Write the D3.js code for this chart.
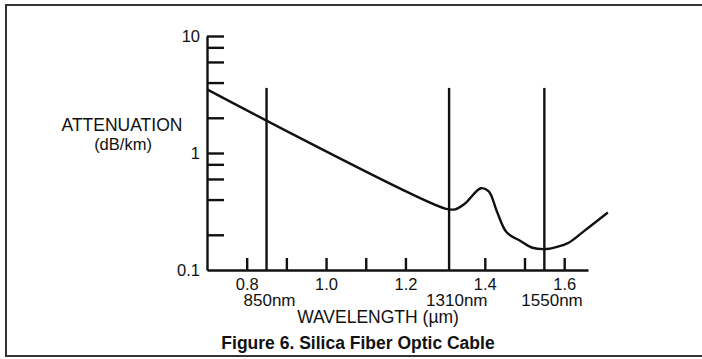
<!DOCTYPE html>
<html>
<head>
<meta charset="utf-8">
<script src="https://cdn.jsdelivr.net/npm/d3@7"></script>
<style>
  body { margin: 0; background: #fff; }
  svg { display: block; font-family: "Liberation Sans", Arial, sans-serif; }
</style>
</head>
<body>
<div id="container"></div>
<script>
/* DATA */
const wavelength = [0.70, 1.30, 1.325, 1.35, 1.39, 1.41, 1.43, 1.455, 1.49, 1.52, 1.555, 1.58, 1.61, 1.65, 1.71];
const attenuation = [3.5, 0.335, 0.33, 0.37, 0.50, 0.47, 0.32, 0.21, 0.177, 0.155, 0.151, 0.157, 0.17, 0.215, 0.31];
const windows = [0.85, 1.31, 1.55];
const windowLabels = ["850nm", "1310nm", "1550nm"];
const xTicks = [0.8, 0.9, 1.0, 1.1, 1.2, 1.4, 1.5, 1.6];
const xLabeled = [0.8, 1.0, 1.2, 1.4, 1.6];
const yTicks = [0.1, 0.2, 0.4, 0.6, 0.8, 1, 2, 4, 6, 8, 10];
const yLabeled = [0.1, 1, 10];

const width = 702, height = 359;
const ink = "#111";

const svg = d3.select("#container").append("svg")
  .attr("width", width)
  .attr("height", height);

// frame (left, top, bottom)
svg.append("path")
  .attr("d", "M702,5H6V356H702")
  .attr("fill", "none")
  .attr("stroke", "#333")
  .attr("stroke-width", 2);

/* SCALES */
const xScale = d3.scaleLinear().domain([0.7, 1.66]).range([207, 588]);
const yScale = d3.scaleLog().domain([0.1, 10]).range([270, 36]);

// y axis: ticks point right, labels on the left
const yAxis = d3.axisLeft(yScale)
  .tickValues(yTicks.filter(d => d !== 0.1))
  .tickSizeInner(-17)
  .tickSizeOuter(0)
  .tickPadding(7)
  .tickFormat(d => yLabeled.includes(d) ? d3.format("~g")(d) : "");

const yG = svg.append("g")
  .attr("transform", `translate(${xScale(0.7)},0)`)
  .call(yAxis);

// x axis: ticks point up
const xAxis = d3.axisBottom(xScale)
  .tickValues(xTicks)
  .tickSizeInner(-12)
  .tickSizeOuter(0)
  .tickPadding(8)
  .tickFormat(d => xLabeled.includes(d) ? d3.format(".1f")(d) : "");

const xG = svg.append("g")
  .attr("transform", `translate(0,${yScale(0.1)})`)
  .call(xAxis);

[xG, yG].forEach(g => {
  g.selectAll("path, line").attr("stroke", ink).attr("stroke-width", 2.4);
  g.selectAll("text").attr("fill", ink).style("font-size", "16.5px");
});

// "0.1" label at axis corner
svg.append("text")
  .attr("x", xScale(0.7) - 7)
  .attr("y", yScale(0.1))
  .attr("dy", "0.35em")
  .attr("text-anchor", "end")
  .attr("fill", ink)
  .style("font-size", "16.5px")
  .text("0.1");

// transmission windows
svg.selectAll("line.win")
  .data(windows)
  .join("line")
  .attr("class", "win")
  .attr("x1", d => xScale(d))
  .attr("x2", d => xScale(d))
  .attr("y1", yScale(0.1))
  .attr("y2", yScale(3.6))
  .attr("stroke", ink)
  .attr("stroke-width", 2.4);

svg.selectAll("text.win")
  .data(windows)
  .join("text")
  .attr("class", "win")
  .attr("x", d => xScale(d) - 23)
  .attr("y", 306)
  .attr("fill", ink)
  .style("font-size", "17px")
  .text((d, i) => windowLabels[i]);

// attenuation curve
const points = wavelength.map((w, i) => [w, attenuation[i]]);
const line = d3.line()
  .x(d => xScale(d[0]))
  .y(d => yScale(d[1]))
  .curve(d3.curveCatmullRom.alpha(0.5));

svg.append("path")
  .datum(points)
  .attr("d", line)
  .attr("fill", "none")
  .attr("stroke", ink)
  .attr("stroke-width", 2.4);

// axis titles
svg.append("text")
  .attr("x", 122).attr("y", 131)
  .attr("text-anchor", "middle")
  .attr("fill", ink)
  .style("font-size", "17.5px")
  .text("ATTENUATION");

svg.append("text")
  .attr("x", 123).attr("y", 150)
  .attr("text-anchor", "middle")
  .attr("fill", ink)
  .style("font-size", "16.5px")
  .text("(dB/km)");

svg.append("text")
  .attr("x", 378).attr("y", 323)
  .attr("text-anchor", "middle")
  .attr("fill", ink)
  .style("font-size", "17.5px")
  .text("WAVELENGTH (µm)");

svg.append("text")
  .attr("x", 358).attr("y", 349)
  .attr("text-anchor", "middle")
  .attr("fill", ink)
  .style("font-size", "17.5px")
  .style("font-weight", "bold")
  .text("Figure 6.  Silica Fiber Optic Cable");
</script>
</body>
</html>
